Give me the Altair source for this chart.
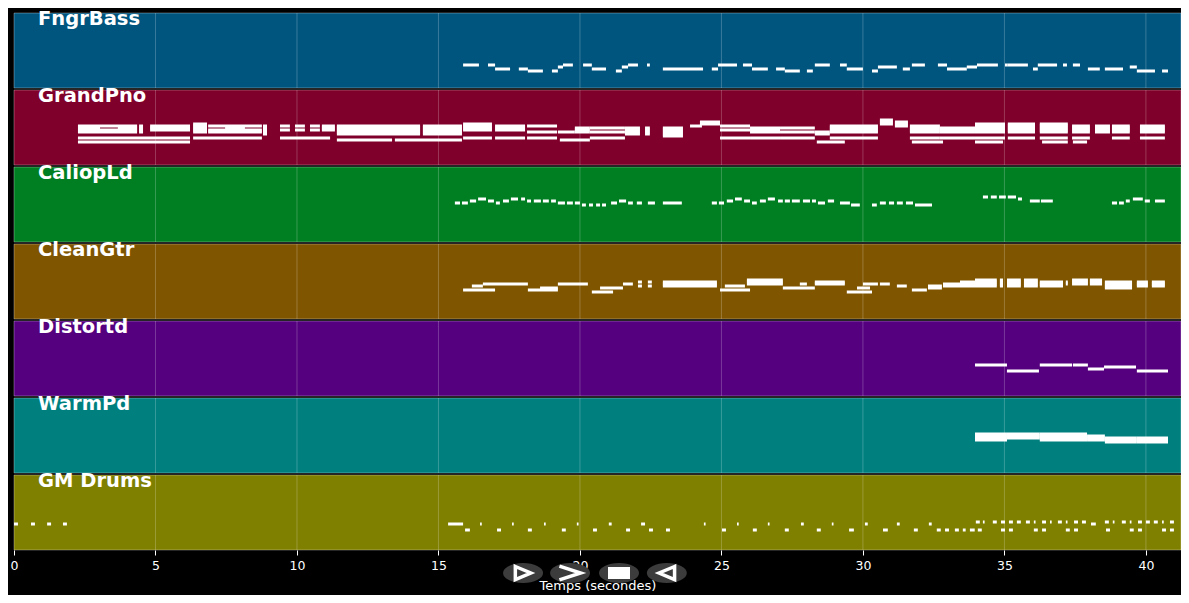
import altair as alt
import pandas as pd

# ---------------- data ----------------
tracks = ["FngrBass", "GrandPno", "CaliopLd", "CleanGtr", "Distortd", "WarmPd", "GM Drums"]
track_colors = ["#00557f", "#7f002a", "#007f22", "#7f5500", "#55007f", "#007f7f", "#7f7f00"]
track_top_pitch = [66, 100, 90, 80, 70, 80, 65.5]   # pitch shown at the top edge of each lane
song_end = 41.24
time_ticks = [0, 5, 10, 15, 20, 25, 30, 35, 40]

# FngrBass
bass_start = [15.87, 16.75, 17.00, 17.84, 18.16, 19.01, 19.22, 19.40, 20.11, 20.42, 21.27, 21.48, 21.70, 22.37,
              22.93, 24.66, 24.88, 25.76, 26.08, 26.93, 27.24, 28.02, 28.30, 29.19, 29.43, 30.32, 30.53, 31.41,
              31.73, 32.65, 32.97, 33.67, 34.03, 35.02, 35.12, 36.01, 36.18, 37.07, 37.42, 37.95, 38.55, 39.43,
              39.68, 40.57]
bass_end = [16.43, 17.00, 17.53, 18.16, 18.69, 19.22, 19.40, 19.75, 20.42, 20.92, 21.48, 21.70, 22.05, 22.47,
            24.35, 24.88, 25.55, 26.08, 26.64, 27.24, 27.77, 28.23, 28.83, 29.43, 30.00, 30.53, 31.20, 31.66,
            32.19, 32.97, 33.67, 34.03, 34.77, 35.12, 35.83, 36.18, 36.86, 37.21, 37.67, 38.37, 39.19, 39.68,
            40.32, 40.78]
bass_pitch = [40, 40, 38, 38, 37, 37, 39, 40, 40, 38, 37, 39, 40, 40, 38, 38, 40, 40, 38, 38, 37, 37, 40, 40,
              38, 37, 39, 38, 40, 40, 38, 39, 40, 40, 40, 38, 40, 40, 40, 38, 38, 39, 37, 37]

# GrandPno (chords)
gp_start = [2.26, 2.26, 3.67, 2.26, 4.42, 4.81, 6.33, 6.33, 6.86, 7.46, 8.80, 9.40, 9.93, 10.46, 10.88, 9.40,
            11.41, 11.41, 13.46, 14.45, 15.87, 15.87, 17.00, 17.00, 18.13, 18.13, 19.22, 19.29, 19.82, 20.35,
            20.35, 21.59, 22.30, 22.93, 23.89, 24.24, 24.95, 24.95, 26.01, 26.01, 27.07, 27.07, 28.37, 28.30,
            28.83, 28.83, 30.60, 31.13, 31.66, 31.66, 31.73, 32.72, 32.72, 33.96, 33.96, 33.96, 35.12, 35.12,
            36.25, 36.25, 36.33, 37.39, 37.39, 37.42, 38.20, 38.80, 38.80, 39.79, 39.79]
gp_end = [4.35, 3.04, 4.35, 6.22, 4.56, 6.22, 6.82, 8.76, 8.76, 8.16, 8.94, 9.75, 10.28, 10.81, 11.34, 11.17,
          14.35, 13.36, 15.83, 15.83, 16.89, 16.89, 18.06, 18.06, 19.19, 19.19, 19.82, 20.35, 20.35, 21.59,
          21.59, 22.12, 22.47, 23.64, 24.31, 24.95, 26.01, 26.01, 27.07, 27.07, 28.30, 28.30, 29.36, 28.83,
          30.53, 30.53, 31.06, 31.59, 32.72, 32.72, 32.83, 33.96, 33.96, 35.02, 35.02, 34.95, 36.08, 36.08,
          37.24, 37.24, 37.24, 38.02, 38.02, 37.92, 38.73, 39.43, 39.43, 40.67, 40.67]
gp_pitches = [[82, 80, 79], [81], [81], [76, 74], [82, 81, 80, 79], [82, 81, 80], [83, 82, 81, 80, 79], [76],
              [82, 80, 79], [81], [82, 81, 80, 79, 78], [82, 80], [82, 80], [82, 80], [82, 81, 80], [76],
              [82, 81, 80, 79, 78], [75], [75], [82, 81, 80, 79, 78], [83, 82, 81, 80], [76], [82, 81, 80], [76],
              [82, 79], [76], [79], [75], [81, 80, 79], [81, 79], [76], [81, 80, 79, 78], [81, 80, 79, 78],
              [81, 80, 79, 78, 77], [82], [84, 83], [82, 80], [76], [81, 80, 79], [76], [81, 79], [76], [74],
              [79, 78], [82, 81, 80, 79], [76], [85, 84, 83], [84, 83, 82], [82, 81, 80, 79], [76], [74],
              [81, 80, 79], [76], [83, 82, 81, 80, 79], [76], [74], [83, 82, 81, 80, 79], [76],
              [83, 82, 81, 80, 79], [76], [74], [82, 81, 80, 79], [76], [74], [82, 81, 80, 79],
              [82, 81, 80, 79], [76], [82, 81, 80, 79], [76]]

# CaliopLd
cl_start = [15.58, 15.83, 16.11, 16.40, 16.75, 17.03, 17.28, 17.56, 17.92, 18.13, 18.37, 18.69, 18.98, 19.22,
            19.54, 19.82, 20.07, 20.32, 20.57, 20.78, 21.10, 21.38, 21.70, 22.01, 22.40, 22.93,
            24.66, 24.91, 25.19, 25.48, 25.80, 26.08, 26.36, 26.64, 27.00, 27.24, 27.49, 27.88, 28.20, 28.41,
            28.76, 29.19, 29.58, 30.32, 30.60, 30.92, 31.20, 31.52, 31.84,
            34.24, 34.52, 34.81, 35.12, 35.48, 35.90, 36.29,
            38.80, 39.05, 39.29, 39.54, 39.96, 40.32]
cl_end = [15.76, 16.04, 16.33, 16.68, 16.96, 17.17, 17.49, 17.81, 18.06, 18.27, 18.62, 18.90, 19.15, 19.47,
          19.75, 20.00, 20.21, 20.46, 20.71, 20.92, 21.31, 21.63, 21.87, 22.19, 22.65, 23.60,
          24.84, 25.09, 25.41, 25.72, 26.01, 26.25, 26.57, 26.89, 27.17, 27.42, 27.77, 28.13, 28.34, 28.66,
          28.98, 29.54, 29.89, 30.49, 30.81, 31.10, 31.41, 31.77, 32.44,
          34.42, 34.73, 35.05, 35.41, 35.62, 36.25, 36.71,
          38.98, 39.22, 39.43, 39.89, 40.14, 40.67]
cl_pitch = [72, 72, 73, 74, 73, 72, 73, 74, 74, 73, 73, 73, 73, 72, 72, 72, 71, 71, 71, 71, 72, 73, 72, 72, 72, 72,
            72, 72, 73, 74, 73, 72, 73, 74, 73, 73, 73, 73, 73, 72, 73, 72, 71, 71, 72, 72, 72, 72, 71,
            75, 75, 75, 75, 74, 73, 73,
            72, 72, 73, 74, 73, 73]

# CleanGtr (chords)
cg_start = [15.87, 16.18, 16.57, 18.16, 18.59, 19.22, 20.42, 20.71, 21.52, 22.05, 22.40, 22.93, 24.95, 25.12,
            25.90, 27.17, 27.77, 28.30, 29.43, 29.79, 30.00, 30.60, 31.20, 31.73, 32.30, 32.83, 33.43, 33.96,
            34.84, 35.09, 35.69, 36.25, 37.17, 37.39, 38.02, 38.55, 39.68, 40.21]
cg_end = [17.00, 16.57, 18.16, 19.22, 19.22, 20.28, 21.17, 21.52, 21.87, 22.19, 22.54, 24.84, 26.01, 25.83,
          27.17, 28.30, 28.02, 29.36, 30.32, 30.25, 30.53, 30.95, 31.55, 32.26, 32.79, 33.43, 33.96, 34.73,
          34.95, 35.58, 36.18, 37.07, 37.24, 37.95, 38.45, 39.51, 40.07, 40.67]
cg_pitches = [[57], [59], [60], [57], [58], [60], [56], [58], [60], [61, 59], [61, 59], [61, 60, 59], [57], [59],
              [62, 61, 60], [58], [60], [61, 60], [56], [58], [60], [60], [59], [57], [59, 58], [60, 59],
              [61, 60, 59], [62, 61, 60, 59], [62, 61, 60, 59], [62, 61, 60, 59], [62, 61, 60, 59],
              [61, 60, 59], [61, 60], [62, 61, 60], [62, 61, 60], [61, 60, 59, 58], [61, 60, 59], [61, 60, 59]]

# Distortd
dt_start = [33.96, 35.09, 36.25, 37.42, 37.95, 38.52, 39.68]
dt_end = [35.09, 36.22, 37.39, 37.95, 38.52, 39.65, 40.78]
dt_pitch = [48, 45, 48, 48, 46, 47, 45]

# WarmPd (chords)
wp_start = [33.96, 35.09, 36.25, 37.92, 38.55, 39.68]
wp_end = [35.09, 36.25, 37.92, 38.55, 39.68, 40.78]
wp_pitches = [[62, 61, 60, 59], [62, 61, 60], [62, 61, 60, 59], [61, 60, 59], [60, 59, 58], [60, 59, 58]]

# GM Drums
dr_start = [0.00, 0.60, 1.17, 1.73, 15.34, 15.94, 16.47, 17.07, 17.60, 18.16, 18.73, 19.36, 19.89, 20.46, 21.02,
            21.63, 22.16, 22.44, 23.04, 24.38, 25.02, 25.55, 26.11, 26.64, 27.24, 27.81, 28.37, 28.90, 29.51,
            30.07, 30.71, 31.20, 31.80, 32.33, 32.61, 32.90, 33.25, 33.53, 33.78,
            33.99, 34.24, 34.59, 34.88, 35.16, 35.44, 35.76, 36.04, 36.33, 36.61, 36.89, 37.17, 37.46, 37.74,
            38.06, 38.55, 38.83, 39.15, 39.43, 39.72, 40.00, 40.28, 40.57, 40.85,
            34.06, 34.88, 35.16, 36.04, 36.33, 37.17, 37.46, 38.59, 39.43, 39.72, 40.57, 40.85]
dr_len = [0.14, 0.14, 0.14, 0.14, 0.53, 0.17, 0.06, 0.14, 0.06, 0.14, 0.06, 0.14, 0.06, 0.14, 0.10, 0.14, 0.14,
          0.14, 0.14, 0.06, 0.14, 0.06, 0.14, 0.06, 0.14, 0.10, 0.14, 0.06, 0.17, 0.10, 0.17, 0.10, 0.14, 0.10,
          0.14, 0.14, 0.14, 0.10, 0.17,
          0.14, 0.06, 0.14, 0.14, 0.14, 0.14, 0.14, 0.06, 0.14, 0.06, 0.14, 0.06, 0.14, 0.14, 0.17, 0.14, 0.06,
          0.14, 0.06, 0.14, 0.14, 0.14, 0.06, 0.14,
          0.14, 0.14, 0.14, 0.14, 0.14, 0.14, 0.14, 0.14, 0.14, 0.14, 0.14, 0.14]
dr_pitch = [41, 41, 41, 41, 41, 38, 41, 38, 41, 38, 41, 38, 41, 38, 41, 38, 41, 38, 38, 41, 38, 41, 38, 41, 38,
            41, 38, 41, 38, 41, 38, 41, 38, 41, 38, 38, 38, 38, 38,
            42, 42, 42, 42, 42, 42, 42, 42, 42, 42, 42, 42, 42, 42, 41, 42, 42, 42, 42, 42, 42, 42, 42, 42,
            38, 38, 38, 38, 38, 38, 38, 38, 38, 38, 38, 38]

# player buttons under the axis
button_time = [17.99, 19.65, 21.38, 23.07]
button_kind = ["play", "next", "stop", "back"]
button_row = 280

# ---------------- layout helpers ----------------
PANEL_ROWS = 37.5
GAP_ROWS = 1.0
STEP = PANEL_ROWS + GAP_ROWS


def note_rows(track, starts, ends, pitches):
    i = tracks.index(track)
    out = []
    for s, e, ps in zip(starts, ends, pitches, strict=True):
        for p in (ps if isinstance(ps, list) else [ps]):
            out.append({"track": track, "start": s, "end": e, "pitch": p,
                        "row": i * STEP + (track_top_pitch[i] - p)})
    return out


dr_end = [round(s + l, 3) for s, l in zip(dr_start, dr_len, strict=True)]
rows = []
rows += note_rows("FngrBass", bass_start, bass_end, bass_pitch)
rows += note_rows("GrandPno", gp_start, gp_end, gp_pitches)
rows += note_rows("CaliopLd", cl_start, cl_end, cl_pitch)
rows += note_rows("CleanGtr", cg_start, cg_end, cg_pitches)
rows += note_rows("Distortd", dt_start, dt_end, dt_pitch)
rows += note_rows("WarmPd", wp_start, wp_end, wp_pitches)
rows += note_rows("GM Drums", dr_start, dr_end, dr_pitch)
notes_df = pd.DataFrame(rows)

bg_df = pd.DataFrame([{"track": t, "x0": 0, "x1": song_end, "top": i * STEP, "bottom": i * STEP + PANEL_ROWS}
                      for i, t in enumerate(tracks)])
grid_df = pd.DataFrame([{"t": tk, "top": i * STEP, "bottom": i * STEP + PANEL_ROWS}
                        for i in range(len(tracks)) for tk in time_ticks[1:]])
label_df = pd.DataFrame([{"track": t, "x": 0.85, "top": i * STEP} for i, t in enumerate(tracks)])
btn_df = pd.DataFrame({"t": button_time, "kind": button_kind, "row": [button_row] * 4})

xscale = alt.Scale(domain=[0, song_end], nice=False, zero=False)
yscale = alt.Scale(domain=[0, len(tracks) * STEP - GAP_ROWS], reverse=True, nice=False, zero=False)
xaxis = alt.Axis(values=time_ticks, title="Temps (secondes)", grid=False, domain=False, tickColor="white",
                 tickSize=5, labelColor="white", titleColor="white", labelFontSize=12.5, titleFontSize=13,
                 labelFont="DejaVu Sans", titleFont="DejaVu Sans", titleFontWeight="normal", labelPadding=4,
                 titlePadding=8, format="d", labelFlush=False)

bg = alt.Chart(bg_df).mark_rect(stroke="white", strokeOpacity=0.3, strokeWidth=1).encode(
    x=alt.X("x0:Q", scale=xscale, axis=xaxis), x2="x1:Q",
    y=alt.Y("top:Q", scale=yscale, axis=None), y2="bottom:Q",
    color=alt.Color("track:N", scale=alt.Scale(domain=tracks, range=track_colors), legend=None),
)

grid = alt.Chart(grid_df).mark_rule(color="white", opacity=0.22, strokeWidth=1).encode(
    x=alt.X("t:Q", scale=xscale, axis=xaxis),
    y=alt.Y("top:Q", scale=yscale, axis=None), y2="bottom:Q",
)

notes = alt.Chart(notes_df).mark_rect(color="white", opacity=1, yOffset=-1.5, y2Offset=1.5).encode(
    x=alt.X("start:Q", scale=xscale, axis=xaxis), x2="end:Q",
    y=alt.Y("row:Q", scale=yscale, axis=None), y2=alt.Y2("row"),
)

labels = alt.Chart(label_df).mark_text(align="left", baseline="alphabetic", dy=12, font="DejaVu Sans",
                                        fontSize=19.5, fontWeight="bold", color="white").encode(
    x=alt.X("x:Q", scale=xscale, axis=xaxis),
    y=alt.Y("top:Q", scale=yscale, axis=None),
    text="track:N",
)

ELLIPSE = "M-1,0 A1,0.5 0 1,1 1,0 A1,0.5 0 1,1 -1,0 Z"
buttons = alt.Chart(btn_df).mark_point(shape=ELLIPSE, filled=True, color="#3c3c3c", size=1600, opacity=1,
                                       strokeWidth=0).encode(
    x=alt.X("t:Q", scale=xscale, axis=xaxis),
    y=alt.Y("row:Q", scale=yscale, axis=None),
)

glyph_paths = ["M-0.62,-0.52 L0.62,0 L-0.62,0.52 Z", "M-0.85,-0.55 L0.85,0 L-0.85,0.55",
               "M0.62,-0.52 L-0.62,0 L0.62,0.52 Z"]
glyph_outline = alt.Chart(btn_df).transform_filter("datum.kind != 'stop'").mark_point(
    filled=False, color="white", strokeWidth=3.5, size=625, opacity=1).encode(
    x=alt.X("t:Q", scale=xscale, axis=xaxis),
    y=alt.Y("row:Q", scale=yscale, axis=None),
    shape=alt.Shape("kind:N", scale=alt.Scale(domain=["play", "next", "back"], range=glyph_paths), legend=None),
)
glyph_stop = alt.Chart(btn_df).transform_filter("datum.kind == 'stop'").mark_point(
    shape="M-0.88,-0.48 L0.88,-0.48 L0.88,0.48 L-0.88,0.48 Z", filled=True, color="white", size=625,
    opacity=1).encode(
    x=alt.X("t:Q", scale=xscale, axis=xaxis),
    y=alt.Y("row:Q", scale=yscale, axis=None),
)

chart = alt.layer(bg, grid, notes, labels, buttons, glyph_outline, glyph_stop).properties(
    width=1167, height=537, autosize="none",
    padding={"left": 6, "top": 5, "right": 0, "bottom": 45},
    background="black",
).configure_view(stroke=None)

chart.save("out.html", embed_options={"renderer": "svg", "actions": False})
